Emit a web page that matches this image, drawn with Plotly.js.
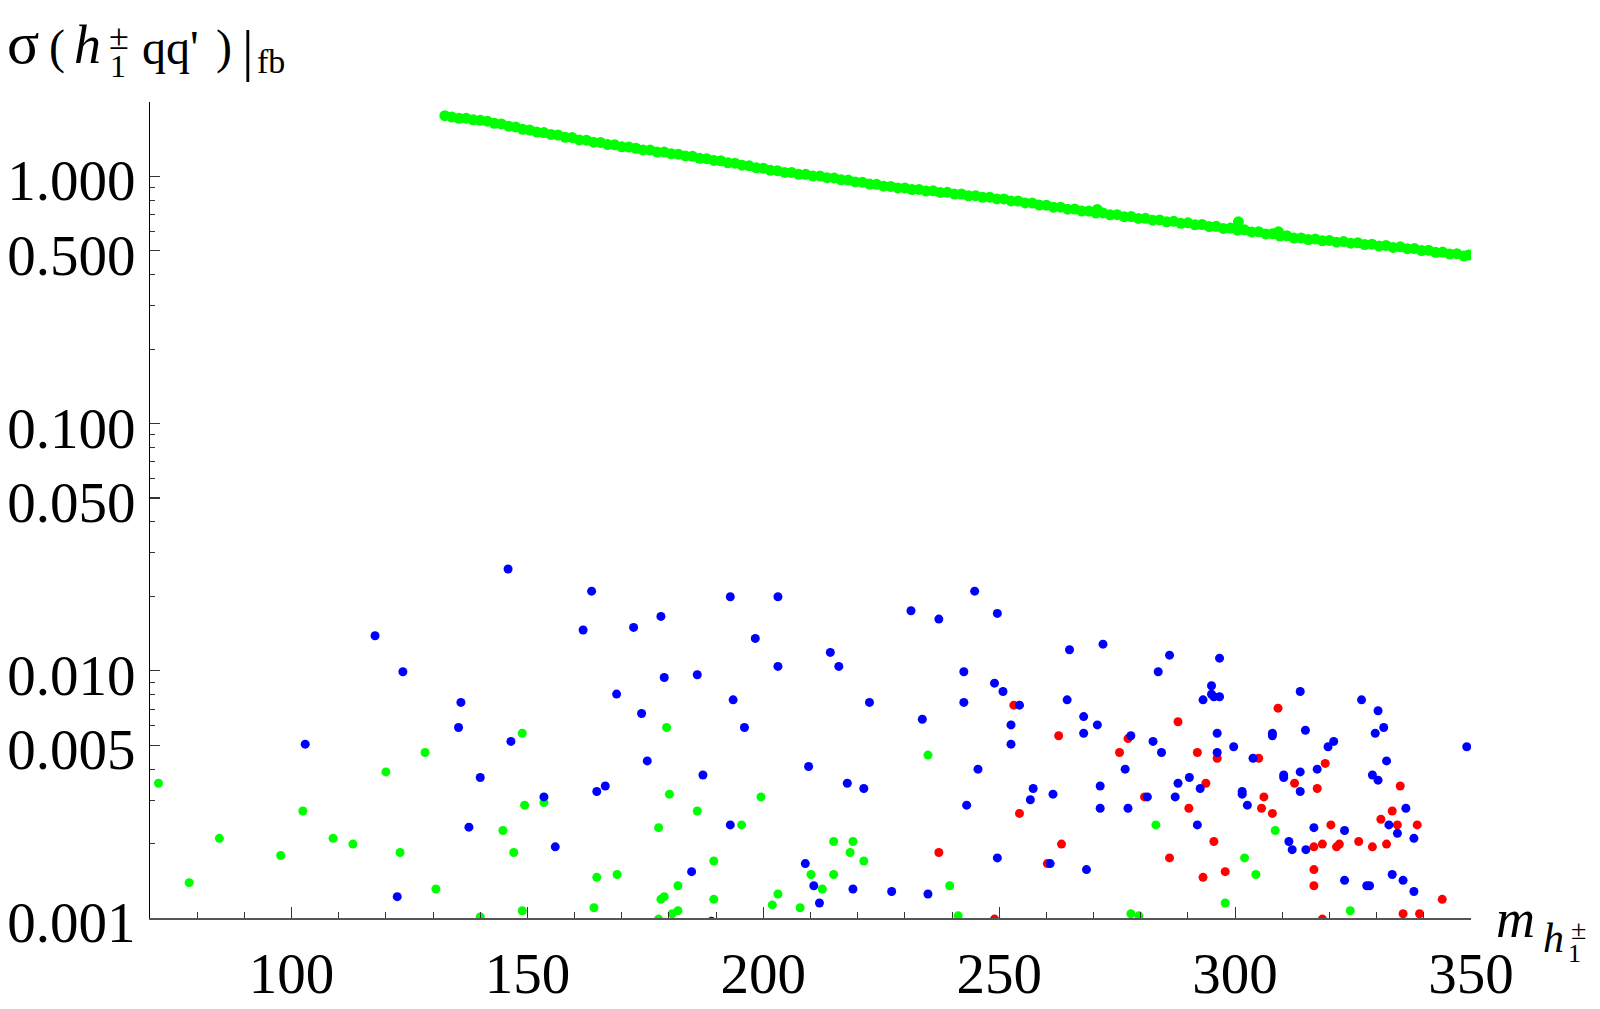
<!DOCTYPE html>
<html>
<head>
<meta charset="utf-8">
<script src="https://cdn.plot.ly/plotly-3.0.1.min.js"></script>
<style>html,body{margin:0;padding:0;background:#fff;}#chart{width:1600px;height:1009px;}</style>
</head>
<body>
<div id="chart"></div>
<script>
// ---------- data ----------
var bandX = [132.5,134,135.5,137,138.5,140,141.5,143,144.5,146,147.5,149,150.5,152,153.5,155,156.5,158,159.5,161,162.5,164,165.5,167,168.5,170,171.5,173,174.5,176,177.5,179,180.5,182,183.5,185,186.5,188,189.5,191,192.5,194,195.5,197,198.5,200,201.5,203,204.5,206,207.5,209,210.5,212,213.5,215,216.5,218,219.5,221,222.5,224,225.5,227,228.5,230,231.5,233,234.5,236,237.5,239,240.5,242,243.5,245,246.5,248,249.5,251,252.5,254,255.5,257,258.5,260,261.5,263,264.5,266,267.5,269,270.5,272,273.5,275,276.5,278,279.5,281,282.5,284,285.5,287,288.5,290,291.5,293,294.5,296,297.5,299,300.5,302,303.5,305,306.5,308,309.5,311,312.5,314,315.5,317,318.5,320,321.5,323,324.5,326,327.5,329,330.5,332,333.5,335,336.5,338,339.5,341,342.5,344,345.5,347,348.5,270.8,300.7,309.2,349.5];
var bandY = [1.760,1.738,1.718,1.720,1.695,1.686,1.672,1.640,1.630,1.596,1.585,1.550,1.540,1.512,1.505,1.478,1.470,1.440,1.436,1.405,1.402,1.376,1.372,1.345,1.342,1.318,1.314,1.300,1.280,1.278,1.255,1.254,1.234,1.230,1.210,1.206,1.184,1.180,1.160,1.156,1.135,1.131,1.110,1.104,1.084,1.080,1.058,1.055,1.038,1.038,1.020,1.020,1.004,1.003,0.988,0.986,0.969,0.967,0.950,0.948,0.931,0.929,0.913,0.911,0.898,0.898,0.885,0.886,0.873,0.874,0.861,0.862,0.848,0.849,0.835,0.836,0.823,0.824,0.811,0.811,0.796,0.795,0.781,0.780,0.766,0.765,0.751,0.751,0.737,0.738,0.724,0.724,0.711,0.712,0.699,0.700,0.687,0.688,0.676,0.677,0.665,0.667,0.655,0.658,0.646,0.649,0.637,0.639,0.627,0.628,0.616,0.618,0.606,0.608,0.596,0.597,0.585,0.586,0.574,0.575,0.563,0.564,0.555,0.558,0.549,0.551,0.542,0.545,0.537,0.539,0.530,0.532,0.523,0.526,0.516,0.519,0.510,0.511,0.501,0.503,0.493,0.494,0.485,0.487,0.477,0.735,0.655,0.597,0.481];

var greenX = [71.8,78.3,84.7,97.7,102.4,108.8,113.0,120.0,123.0,128.3,130.6,140.0,144.8,147.1,148.9,149.4,148.9,153.5,164.7,164.1,179.5,180.1,186.0,177.8,199.5,195.4,189.5,169.0,181.9,178.3,179.0,189.5,181.9,180.7,177.8,203.1,201.9,207.8,214.9,219.0,218.4,221.3,210.1,214.9,212.5,234.9,239.5,241.3,283.2,308.5,302.0,304.4,297.9,277.9,279.6,324.4,262.0,308.5,325.0];
var greenY = [0.00351,0.00139,0.00210,0.00179,0.00271,0.00210,0.00199,0.00390,0.00184,0.00467,0.00131,0.00101,0.00226,0.00184,0.00559,0.00286,0.00107,0.00293,0.00146,0.00110,0.00590,0.00317,0.00271,0.00232,0.00309,0.00238,0.00170,0.00150,0.00135,0.00119,0.00122,0.00119,0.00107,0.00104,0.00099,0.00125,0.00113,0.00110,0.00204,0.00204,0.00184,0.00170,0.00150,0.00150,0.00131,0.00456,0.00135,0.00102,0.00238,0.00226,0.00175,0.00150,0.00115,0.00104,0.00102,0.00107,0.00096,0.00096,0.00096];

var blueX = [145.9,163.6,161.8,117.7,123.6,135.9,135.4,102.9,146.5,140.0,153.5,164.7,137.6,155.9,122.4,172.5,178.3,193.0,203.1,198.3,179.0,186.0,168.9,174.2,193.6,196.0,203.1,214.2,216.0,222.5,231.3,237.2,244.8,249.6,242.5,249.0,250.8,242.5,254.3,233.7,252.5,252.5,175.4,187.2,209.6,166.5,217.8,221.3,245.5,257.2,256.6,243.1,193.0,208.9,184.8,210.7,219.0,211.9,227.2,234.9,249.6,189.0,216.6,264.9,272.0,286.1,283.7,296.7,295.0,295.0,295.5,296.7,293.2,264.4,267.9,270.8,267.9,277.9,282.6,284.4,296.2,296.2,299.7,303.8,307.9,307.9,313.8,314.9,319.7,320.9,326.8,330.3,331.5,329.7,332.1,329.1,330.3,349.1,276.7,271.4,261.4,271.4,277.3,281.4,287.9,290.3,292.6,287.3,301.5,301.5,302.6,310.3,310.3,313.8,317.4,313.8,292.0,316.7,323.2,311.4,312.1,315.0,336.2,332.6,334.4,337.9,260.8,268.5,323.2,327.9,328.5,333.3,335.6,337.9,310.9];
var blueY = [0.0258,0.0210,0.01462,0.01386,0.00991,0.00745,0.00590,0.00505,0.00518,0.00370,0.00309,0.00325,0.00233,0.00194,0.00122,0.01498,0.01660,0.01994,0.01994,0.01352,0.00940,0.00964,0.00805,0.00672,0.00763,0.00590,0.01042,0.01187,0.01042,0.00745,0.01750,0.01619,0.0210,0.01707,0.00991,0.00891,0.00825,0.00745,0.00726,0.00637,0.00604,0.00505,0.00432,0.00379,0.00410,0.00342,0.00351,0.00334,0.00400,0.00334,0.00301,0.00286,0.00238,0.00166,0.00154,0.00135,0.00131,0.00115,0.00128,0.00125,0.00175,0.00097,0.00096,0.01217,0.01282,0.01157,0.00991,0.01125,0.00870,0.00804,0.00785,0.00785,0.00763,0.00763,0.00653,0.00604,0.00559,0.00546,0.00518,0.00467,0.00559,0.00467,0.00493,0.00443,0.00559,0.00546,0.00825,0.00575,0.00493,0.00518,0.00763,0.00689,0.00590,0.00559,0.00432,0.00379,0.00361,0.00493,0.00400,0.00342,0.00317,0.00278,0.00278,0.00309,0.00351,0.00370,0.00334,0.00309,0.00325,0.00317,0.00286,0.00379,0.00370,0.00390,0.00400,0.00325,0.00238,0.00232,0.00226,0.00204,0.00189,0.00189,0.00278,0.00238,0.00220,0.00210,0.00166,0.00157,0.00142,0.00135,0.00135,0.00150,0.00142,0.00128,0.00096];

var redX = [253.1,254.3,237.2,249.0,262.6,277.3,275.5,287.9,292.0,296.2,305.0,309.1,293.8,280.8,290.2,306.1,305.6,307.9,312.6,317.4,319.1,335.0,333.3,330.9,334.4,338.6,320.3,263.2,295.5,316.7,318.5,321.5,322.1,326.2,329.1,332.1,260.2,286.1,293.2,297.9,316.7,316.7,343.9,335.6,339.1,283.2,305.6,318.5,348.0];
var redY = [0.00726,0.00265,0.00184,0.00099,0.00546,0.00532,0.00467,0.00622,0.00467,0.00443,0.00443,0.00706,0.00351,0.00309,0.00278,0.00309,0.00278,0.00265,0.00351,0.00334,0.00422,0.00342,0.00271,0.00251,0.00238,0.00238,0.00238,0.00199,0.00204,0.00194,0.00199,0.00194,0.00199,0.00204,0.00194,0.00199,0.00166,0.00175,0.00146,0.00154,0.00157,0.00135,0.00119,0.00104,0.00104,0.00096,0.00096,0.00099,0.00096];

var xTickVals = [100,150,200,250,300,350];
var xTickText = ['100','150','200','250','300','350'];
var xMinorVals = [80,90,110,120,130,140,160,170,180,190,210,220,230,240,260,270,280,290,310,320,330,340];
var yTickVals = [0.001,0.005,0.01,0.05,0.1,0.5,1];
var yTickText = ['0.001','0.005','0.010','0.050','0.100','0.500','1.000'];
var yMinorVals = [0.002,0.003,0.004,0.006,0.007,0.008,0.009,0.02,0.03,0.04,0.06,0.07,0.08,0.09,0.2,0.3,0.4,0.6,0.7,0.8,0.9,2];

// ---------- layout helpers (pixel -> paper) ----------
var W = 1600, H = 1009, ML = 150, MR = 129, MT = 102, MB = 91;
var PW = W - ML - MR, PH = H - MT - MB;
function px(x){ return (x - ML) / PW; }
function py(y){ return (H - MB - y) / PH; }
var SERIF = 'Liberation Serif, Times New Roman, serif';
function lab(text, x, y, size){
  return {text: text, xref: 'paper', yref: 'paper', x: px(x), y: py(y),
          xanchor: 'left', yanchor: 'middle', showarrow: false,
          font: {family: SERIF, size: size, color: '#000'}};
}

function pts(x, y, color, size){
  return {type: 'scatter', mode: 'markers', x: x, y: y, hoverinfo: 'skip',
          marker: {size: size, color: color, line: {width: 0}}, cliponaxis: true};
}

var data = [
  pts(greenX, greenY, 'rgb(0,255,0)', 9),
  pts(redX, redY, 'rgb(255,0,0)', 9),
  pts(blueX, blueY, 'rgb(0,0,255)', 9),
  pts(bandX, bandY, 'rgb(0,255,0)', 11)
];

var layout = {
  width: W, height: H, autosize: false,
  margin: {l: ML, r: MR, t: MT, b: MB, pad: 0},
  paper_bgcolor: '#fff', plot_bgcolor: '#fff',
  showlegend: false,
  font: {family: SERIF, color: '#000'},
  xaxis: {
    range: [70, 350], showgrid: false, zeroline: false,
    showline: true, linecolor: '#555', linewidth: 1.5,
    ticks: 'inside', ticklen: 11, tickwidth: 1.2, tickcolor: '#333',
    tickmode: 'array', tickvals: xTickVals, ticktext: xTickText,
    tickfont: {family: SERIF, size: 57, color: '#000'},
    ticklabelstandoff: 5,
    minor: {tickmode: 'array', tickvals: xMinorVals, ticks: 'inside', ticklen: 6, tickwidth: 1, tickcolor: '#333', showgrid: false}
  },
  yaxis: {
    type: 'log', range: [-3, Math.log10(2)], showgrid: false, zeroline: false,
    showline: true, linecolor: '#000', linewidth: 1.2,
    ticks: 'inside', ticklen: 10, tickwidth: 1.2, tickcolor: '#333',
    tickmode: 'array', tickvals: yTickVals, ticktext: yTickText,
    tickfont: {family: SERIF, size: 57, color: '#000'},
    ticklabelstandoff: 2, ticklabelshift: 4,
    minor: {tickmode: 'array', tickvals: yMinorVals, ticks: 'inside', ticklen: 5, tickwidth: 1, tickcolor: '#333', showgrid: false}
  },
  annotations: [
    lab('σ', 5, 43, 60),
    lab('(', 47, 47, 48),
    lab('<i>h</i>', 72, 45, 54),
    lab('±', 107, 37, 36),
    lab('1', 108, 66, 32),
    lab("qq'", 140, 47, 48),
    lab(')', 214, 47, 48),
    lab('|', 240, 50, 58),
    lab('fb', 255, 62, 34),
    lab('<i>m</i>', 1494, 919, 54),
    lab('<i>h</i>', 1541, 938, 42),
    lab('±', 1569, 929, 28),
    lab('1', 1566, 953, 26)
  ]
};

Plotly.newPlot('chart', data, layout, {staticPlot: true, displayModeBar: false});
</script>
</body>
</html>
